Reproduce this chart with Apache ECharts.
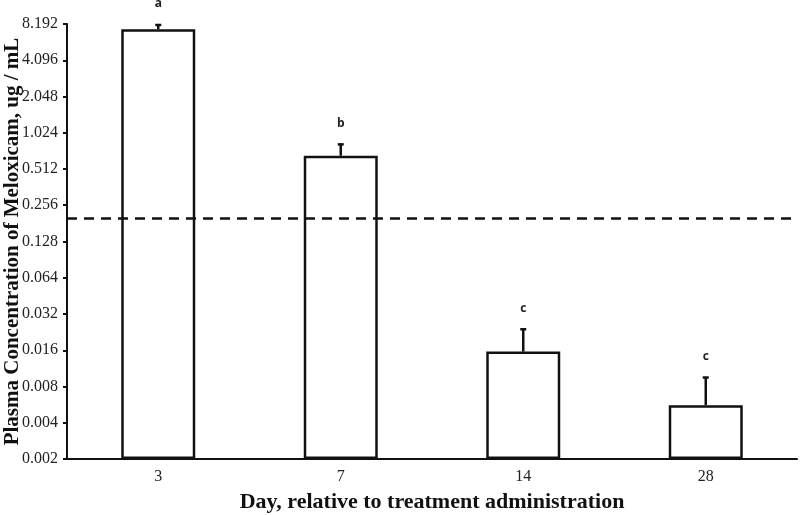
<!DOCTYPE html>
<html>
<head>
<meta charset="utf-8">
<script src="https://cdn.jsdelivr.net/npm/echarts@6/dist/echarts.min.js"></script>
<style>
  html, body { margin: 0; padding: 0; background: #fff; }
  #chart { width: 800px; height: 515px; }
</style>
</head>
<body>
<div id="chart"></div>
<script>
// data (ug / mL)
const days = ['3', '7', '14', '28']
const means = [7.4, 0.66, 0.0156, 0.0056]
const errUp = [0.64, 0.16, 0.0083, 0.0039]
const letters = ['a', 'b', 'c', 'c']
const threshold = 0.2
const yBase = 0.002 // lowest tick, axis doubles each step
const yTicks = [0.002, 0.004, 0.008, 0.016, 0.032, 0.064, 0.128, 0.256, 0.512, 1.024, 2.048, 4.096, 8.192]

// the axis is log2, counted in doublings above yBase
const toAxis = v => Math.log2(v / yBase)

const chart = echarts.init(document.getElementById('chart'))

const serif = '"Liberation Serif", "DejaVu Serif", serif'

chart.setOption({
  animation: false,
  grid: { left: 67, right: 3, top: 24, bottom: 56, containLabel: false, outerBoundsMode: 'none' },
  xAxis: {
    type: 'category',
    data: days,
    name: 'Day, relative to treatment administration',
    nameLocation: 'middle',
    nameGap: 32,
    nameMoveOverlap: false,
    nameTextStyle: { fontFamily: serif, fontWeight: 'bold', fontSize: 22, color: '#111' },
    axisLine: { lineStyle: { color: '#111', width: 2 } },
    axisTick: { alignWithLabel: true, length: 3, lineStyle: { color: '#111', width: 2 } },
    axisLabel: { fontFamily: serif, fontSize: 16, color: '#222', margin: 10 }
  },
  yAxis: {
    type: 'value',
    min: 0,
    max: yTicks.length - 1,
    interval: 1,
    name: 'Plasma Concentration of Meloxicam, ug / mL',
    nameLocation: 'middle',
    nameGap: 44,
    nameMoveOverlap: false,
    nameTextStyle: { fontFamily: serif, fontWeight: 'bold', fontSize: 21, color: '#111' },
    splitLine: { show: false },
    axisLine: { show: true, lineStyle: { color: '#111', width: 2 } },
    axisTick: { show: true, length: 4, lineStyle: { color: '#111', width: 2 } },
    axisLabel: {
      fontFamily: serif, fontSize: 16, color: '#222', margin: 9,
      formatter: k => yTicks[k] !== undefined ? yTicks[k].toFixed(3) : ''
    }
  },
  series: [
    {
      type: 'bar',
      data: means.map(toAxis),
      barWidth: 74,
      itemStyle: { color: '#fff', borderColor: '#111', borderWidth: 2.5 },
      markLine: {
        symbol: 'none',
        silent: true,
        label: { show: false },
        lineStyle: { color: '#111', width: 2.5, type: [10, 7] },
        data: [{ yAxis: toAxis(threshold) }]
      }
    },
    {
      type: 'custom',
      data: days.map((d, i) => [i, toAxis(means[i]), toAxis(means[i] + errUp[i])]),
      renderItem(params, api) {
        const base = api.coord([api.value(0), api.value(1)])
        const top = api.coord([api.value(0), api.value(2)])
        const x = base[0]
        return {
          type: 'group',
          children: [
            { type: 'line', shape: { x1: x, y1: base[1], x2: x, y2: top[1] }, style: { stroke: '#111', lineWidth: 2.5 } },
            { type: 'line', shape: { x1: x - 3, y1: top[1], x2: x + 3, y2: top[1] }, style: { stroke: '#111', lineWidth: 2.5 } },
            {
              type: 'text',
              style: {
                text: letters[params.dataIndex], x: x, y: top[1] - 21,
                align: 'center', verticalAlign: 'middle',
                font: 'bold 12px "Open Sans", "Liberation Sans", sans-serif', fill: '#222'
              }
            }
          ]
        }
      },
      z: 5
    }
  ]
})
</script>
</body>
</html>
